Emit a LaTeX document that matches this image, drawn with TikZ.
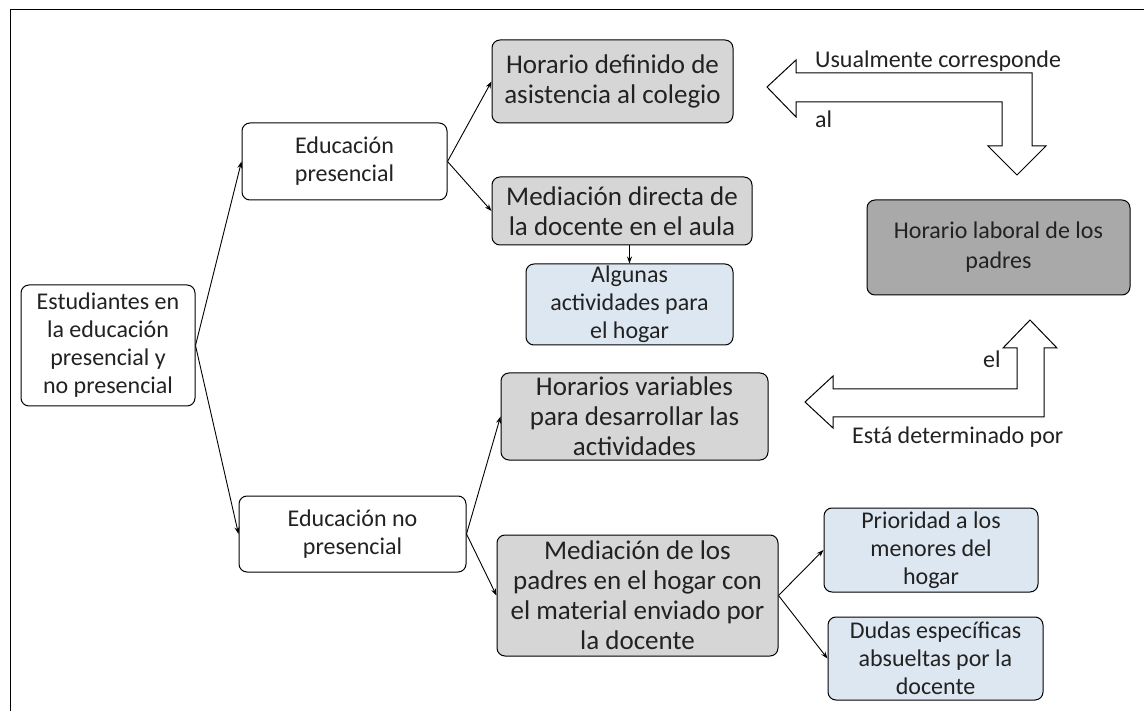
\documentclass[tikz,border=0pt]{standalone}
\usepackage{fontspec}
\setmainfont{Carlito}
\usetikzlibrary{arrows.meta,calc}
\definecolor{gfill}{HTML}{D6D6D6}
\definecolor{dfill}{HTML}{A9A9A9}
\definecolor{bfill}{HTML}{DDE7F1}
\definecolor{ink}{HTML}{222222}
\begin{document}
\begin{tikzpicture}[x=1pt,y=-1pt,
  box/.style={draw=black, line width=1pt, rounded corners=8pt, inner sep=0pt, align=center, text=ink},
  wbox/.style={box, fill=white, font=\fontsize{24}{28}\selectfont},
  gbox/.style={box, fill=gfill, font=\fontsize{27}{30}\selectfont},
  dbox/.style={box, fill=dfill, font=\fontsize{24}{30}\selectfont},
  bbox/.style={box, fill=bfill, font=\fontsize{24}{28}\selectfont},
  conn/.style={draw=black, line width=0.9pt, -{Stealth[length=7pt,width=5pt]}},
  barrow/.style={draw=black, line width=1pt, fill=white},
  lbl/.style={font=\fontsize{24}{28}\selectfont, inner sep=0pt, text=ink}
]
\useasboundingbox (0,0) rectangle (1144,711);
\fill[white] (0,0) rectangle (1144,711);
% frame
\draw[line width=1pt] (10,711) -- (10,10) -- (1144,10);

% nodes
\node[wbox, minimum width=174, minimum height=121] (root) at (108,345.5) {Estudiantes en\\la educación\\presencial y\\no presencial};
\node[wbox, minimum width=205, minimum height=77] (ep) at (344.5,161.5) {Educación\\presencial};
\node[wbox, minimum width=227, minimum height=76] (enp) at (352.5,534) {Educación no\\presencial};

\node[gbox, minimum width=241, minimum height=83] (hd) at (612.5,81.5) {Horario definido de\\asistencia al colegio};
\node[gbox, minimum width=260, minimum height=68] (md) at (622,211) {Mediación directa de\\la docente en el aula};
\node[bbox, minimum width=207, minimum height=81] (al) at (629.5,304.5) {Algunas\\actividades para\\el hogar};

\node[dbox, minimum width=263, minimum height=95] (hl) at (998.5,247.5) {Horario laboral de los\\padres};

\node[gbox, minimum width=267, minimum height=87] (hv) at (634.5,416.5) {Horarios variables\\para desarrollar las\\actividades};
\node[gbox, minimum width=281, minimum height=121] (mp) at (637.5,595.5) {Mediación de los\\padres en el hogar con\\el material enviado por\\la docente};

\node[bbox, minimum width=214, minimum height=84] (pr) at (931,550) {Prioridad a los\\menores del\\hogar};
\node[bbox, minimum width=215, minimum height=83] (du) at (935.5,658.5) {Dudas específicas\\absueltas por la\\docente};

% connectors
\draw[conn] (root.east) -- (ep.west);
\draw[conn] (root.east) -- (enp.west);
\draw[conn] (ep.east) -- (hd.west);
\draw[conn] (ep.east) -- (md.west);
\draw[conn] (md.south -| al.north) -- (al.north);
\draw[conn] (enp.east) -- (hv.west);
\draw[conn] (enp.east) -- (mp.west);
\draw[conn] (mp.east) -- (pr.west);
\draw[conn] (mp.east) -- (du.west);

% bent block arrow (top)
\draw[barrow] (767,87) -- (796,60) -- (796,73) -- (1032,73) -- (1032,146) -- (1046,146)
  -- (1017,175) -- (988,146) -- (1002,146) -- (1002,102) -- (796,102) -- (796,117) -- cycle;
\node[lbl, anchor=base west] (t1) at (815,68) {Usualmente corresponde};
\node[lbl, anchor=base west] (t2) at (815,128) {al};

% bent block arrow (bottom)
\draw[barrow] (805,402) -- (833,376) -- (833,389) -- (1017,389) -- (1017,348) -- (1003,348)
  -- (1030,320) -- (1057,348) -- (1044,348) -- (1044,417) -- (833,417) -- (833,428) -- cycle;
\node[lbl, anchor=base west] (t3) at (983,368) {el};
\node[lbl, anchor=base west] (t4) at (852,443) {Está determinado por};
\end{tikzpicture}
\end{document}
